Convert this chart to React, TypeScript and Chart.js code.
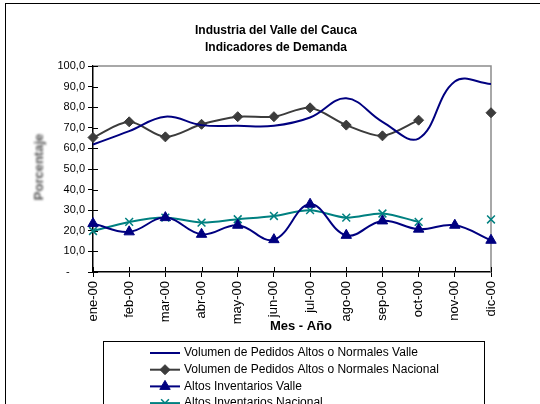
import React, { useEffect, useRef } from 'react';
import { Chart, registerables } from 'chart.js';
import { drawPoint } from 'chart.js/helpers';

Chart.register(...registerables);

const months = ['ene-00', 'feb-00', 'mar-00', 'abr-00', 'may-00', 'jun-00', 'jul-00', 'ago-00', 'sep-00', 'oct-00', 'nov-00', 'dic-00'];
const volPedidosValle = [61.9, 68.4, 75.4, 71.3, 71.0, 71.0, 75.0, 84.3, 72.9, 64.8, 92.5, 91.3];
const volPedidosNacional = [65.3, 72.9, 65.6, 71.7, 75.4, 75.4, 79.7, 71.3, 66.1, 73.7, null, 77.3];
const altosInvValle = [23.5, 19.5, 26.4, 18.3, 22.7, 15.7, 32.9, 17.8, 24.8, 20.8, 22.7, 15.4];
const altosInvNacional = [19.9, 24.3, 26.4, 24.0, 25.6, 27.2, 30.0, 26.4, 28.4, 24.3, null, 25.5];

const titleLines = ['Industria del Valle del Cauca', 'Indicadores de Demanda'];
const yTitle = 'Porcentaje';
const xTitle = 'Mes - Año';

const FONT = '"Liberation Sans", Arial, sans-serif';

const decorPlugin = {
  id: 'decor',
  beforeDraw(chart: any) {
    const ctx = chart.ctx;
    ctx.save();
    ctx.fillStyle = '#fff';
    ctx.fillRect(0, 0, chart.width, chart.height);
    ctx.strokeStyle = '#000';
    ctx.lineWidth = 1;
    ctx.strokeRect(5.5, 3.5, 800, 800);
    ctx.restore();
  },
  beforeDatasetsDraw(chart: any) {
    const ctx = chart.ctx;
    const a = chart.chartArea;
    ctx.save();
    ctx.strokeStyle = '#8c8c8c';
    ctx.lineWidth = 1.5;
    ctx.beginPath();
    ctx.moveTo(a.left, a.top);
    ctx.lineTo(a.right, a.top);
    ctx.lineTo(a.right, a.bottom);
    ctx.stroke();
    // inner halves of cross tick marks
    ctx.strokeStyle = '#000';
    ctx.lineWidth = 1;
    const xs = chart.scales.x;
    xs.ticks.forEach((_t: any, i: number) => {
      const x = Math.round(xs.getPixelForTick(i)) + 0.5;
      ctx.beginPath();
      ctx.moveTo(x, a.bottom);
      ctx.lineTo(x, a.bottom - 5);
      ctx.stroke();
    });
    const ys = chart.scales.y;
    ys.ticks.forEach((_t: any, i: number) => {
      const y = Math.round(ys.getPixelForTick(i)) + 0.5;
      ctx.beginPath();
      ctx.moveTo(a.left, y);
      ctx.lineTo(a.left + 5, y);
      ctx.stroke();
    });
    ctx.restore();
  },
  afterDraw(chart: any) {
    const ctx = chart.ctx;
    const a = chart.chartArea;
    ctx.save();
    // Title
    ctx.fillStyle = '#000';
    ctx.font = `bold 12px ${FONT}`;
    ctx.textAlign = 'center';
    ctx.textBaseline = 'alphabetic';
    ctx.fillText(titleLines[0], 276, 34);
    ctx.fillText(titleLines[1], 276, 51);
    // X title
    ctx.font = `bold 13px ${FONT}`;
    ctx.fillText(xTitle, 301, 330);
    // Y title (blurred gray)
    ctx.save();
    ctx.translate(39, (a.top + a.bottom) / 2 - 2);
    ctx.rotate(-Math.PI / 2);
    ctx.filter = 'blur(1px)';
    ctx.fillStyle = '#555';
    ctx.font = `bold 13px ${FONT}`;
    ctx.textAlign = 'center';
    ctx.textBaseline = 'middle';
    ctx.fillText(yTitle, 0, 0);
    ctx.restore();
    // Legend
    ctx.strokeStyle = '#000';
    ctx.lineWidth = 1;
    ctx.strokeRect(103.5, 341.5, 381, 200);
    ctx.font = `12px ${FONT}`;
    ctx.textAlign = 'left';
    ctx.textBaseline = 'middle';
    chart.data.datasets.forEach((ds: any, i: number) => {
      const y = 353 + i * 16.7;
      ctx.strokeStyle = ds.borderColor;
      ctx.lineWidth = ds.borderWidth;
      ctx.beginPath();
      ctx.moveTo(150, y);
      ctx.lineTo(180, y);
      ctx.stroke();
      if (ds.pointRadius > 0) {
        ctx.fillStyle = ds.pointBackgroundColor || ds.borderColor;
        ctx.strokeStyle = ds.pointBorderColor || ds.borderColor;
        ctx.lineWidth = ds.pointBorderWidth;
        drawPoint(ctx, { pointStyle: ds.pointStyle, rotation: 0, radius: ds.pointRadius, borderWidth: ds.pointBorderWidth }, 165, y);
      }
      ctx.fillStyle = '#000';
      ctx.fillText(ds.label, 184, y);
    });
    ctx.restore();
  },
};

export default function App() {
  const ref = useRef<HTMLCanvasElement | null>(null);
  useEffect(() => {
    if (!ref.current) return;
    const gridCommon = { display: true, drawOnChartArea: false, tickLength: 5, color: '#000', lineWidth: 1 };
    const chart = new Chart(ref.current, {
      type: 'line',
      data: {
        labels: months,
        datasets: [
          {
            label: 'Volumen de Pedidos Altos o Normales Valle',
            data: volPedidosValle,
            borderColor: '#000080',
            borderWidth: 2,
            pointRadius: 0,
            pointHoverRadius: 0,
            tension: 0.4,
            clip: false,
          },
          {
            label: 'Volumen de Pedidos Altos o Normales Nacional',
            data: volPedidosNacional,
            borderColor: '#3c3c3c',
            borderWidth: 2,
            pointStyle: 'rectRot',
            pointRadius: 5,
            pointBorderWidth: 1,
            pointBackgroundColor: '#3c3c3c',
            pointBorderColor: '#3c3c3c',
            tension: 0.3,
            spanGaps: false,
            clip: false,
          },
          {
            label: 'Altos Inventarios Valle',
            data: altosInvValle,
            borderColor: '#000080',
            borderWidth: 2,
            pointStyle: 'triangle',
            pointRadius: 6,
            pointBorderWidth: 1,
            pointBackgroundColor: '#000080',
            pointBorderColor: '#000080',
            tension: 0.4,
            clip: false,
          },
          {
            label: 'Altos Inventarios Nacional',
            data: altosInvNacional,
            borderColor: '#008080',
            borderWidth: 2,
            pointStyle: 'crossRot',
            pointRadius: 5.5,
            pointBorderWidth: 1.5,
            pointBackgroundColor: '#008080',
            pointBorderColor: '#008080',
            tension: 0.3,
            spanGaps: false,
            clip: false,
          },
        ],
      },
      options: {
        animation: false,
        responsive: false,
        events: [],
        layout: { padding: { left: 58, right: 49, top: 66, bottom: 72 } },
        plugins: {
          legend: { display: false },
          title: { display: false },
          tooltip: { enabled: false },
        },
        scales: {
          x: {
            type: 'category',
            offset: false,
            grid: gridCommon,
            border: { color: '#000', width: 1.5 },
            ticks: {
              minRotation: 90,
              maxRotation: 90,
              autoSkip: false,
              padding: 4,
              color: '#000',
              font: { family: FONT, size: 13 },
            },
            afterFit: (s: any) => { s.height = 60; },
          },
          y: {
            min: 0,
            max: 100,
            grid: gridCommon,
            border: { color: '#000', width: 1.5 },
            ticks: {
              stepSize: 10,
              padding: 3,
              color: '#000',
              font: { family: FONT, size: 11 },
              callback: (v: any) => (Number(v) === 0 ? '-     ' : Number(v).toFixed(1).replace('.', ',')),
            },
            afterFit: (s: any) => { s.width = 35; },
          },
        },
      },
      plugins: [decorPlugin],
    } as any);
    return () => chart.destroy();
  }, []);
  return (
    <div style={{ position: 'fixed', left: 0, top: 0, width: 540, height: 404, overflow: 'hidden', background: '#fff' }}>
      <canvas ref={ref} width={540} height={404} style={{ display: 'block' }} />
    </div>
  );
}
